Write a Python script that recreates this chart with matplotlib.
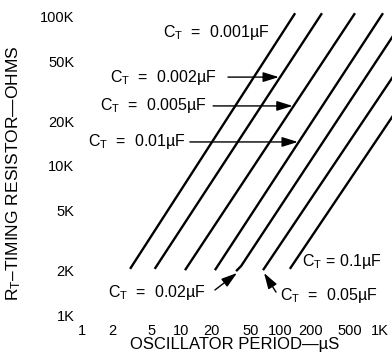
import matplotlib
matplotlib.use("Agg")
import matplotlib.pyplot as plt

plt.rcParams['font.family'] = ['Liberation Sans', 'DejaVu Sans']
plt.rcParams['mathtext.fontset'] = 'custom'
plt.rcParams['mathtext.rm'] = 'Liberation Sans'
plt.rcParams['mathtext.it'] = 'Liberation Sans'

# Data (oscillator period in µs vs timing resistor in ohms)
cap_labels = ['0.001', '0.002', '0.005', '0.01', '0.02', '0.05', '0.1']
curve_periods = [
    [3.05, 140],
    [5.4, 261],
    [10.9, 561],
    [21.8, 1074],
    [35.6, 40.0, 1919],
    [66.5, 3640],
    [124, 6710],
]
curve_res = [
    [2040, 106000],
    [2040, 106000],
    [2000, 106000],
    [2000, 106000],
    [1970, 2130, 106000],
    [2000, 106000],
    [2040, 106000],
]
x_ticks = [1, 2, 5, 10, 20, 50, 100, 200, 500, 1000]
x_tick_labels = ['1', '2', '5', '10', '20', '50', '100', '200', '500', '1K']
y_ticks = [1000, 2000, 5000, 10000, 20000, 50000, 100000]
y_tick_labels = ['1K', '2K', '5K', '10K', '20K', '50K', '100K']

fig = plt.figure(figsize=(3.92, 3.59), dpi=100)
ax = fig.add_axes([80 / 392, 41 / 359, 312 / 392, 318 / 359])
ax.set_xscale('log')
ax.set_yscale('log')

for xs, ys in zip(curve_periods, curve_res):
    ax.plot(xs, ys, color='black', lw=1.7, solid_capstyle='butt')

ax.set_xlim(0.9547, 1324)
ax.set_ylim(955, 130000)
ax.set_xticks(x_ticks)
ax.set_xticklabels(x_tick_labels)
ax.set_yticks(y_ticks)
ax.set_yticklabels(y_tick_labels)
ax.minorticks_off()
ax.tick_params(length=0, labelsize=10.5, pad=4)
for s in ax.spines.values():
    s.set_visible(False)

fs = 11.5
def ct(v):
    return r'C$_\mathrm{T}$  =  ' + v + 'µF'

ax.text(6.54, 78200, ct(cap_labels[0]), fontsize=fs, va='center', ha='left')
ax.text(1.91, 39500, ct(cap_labels[1]), fontsize=fs, va='center', ha='left')
ax.text(1.52, 25300, ct(cap_labels[2]), fontsize=fs, va='center', ha='left')
ax.text(1.15, 14500, ct(cap_labels[3]), fontsize=fs, va='center', ha='left')
ax.text(1.83, 1425, ct(cap_labels[4]), fontsize=fs, va='center', ha='left')
ax.text(98.6, 1361, ct(cap_labels[5]), fontsize=fs, va='center', ha='left')
ax.text(164, 2270, r'C$_\mathrm{T}$ = ' + cap_labels[6] + 'µF', fontsize=fs, va='center', ha='left')

ap = dict(arrowstyle='-|>,head_length=0.8,head_width=0.25', lw=1, color='black',
          mutation_scale=12, shrinkA=0, shrinkB=0)
ax.annotate('', xy=(96, 39500), xytext=(29.5, 39500), arrowprops=ap)
ax.annotate('', xy=(132, 25300), xytext=(20.9, 25300), arrowprops=ap)
ax.annotate('', xy=(149, 14500), xytext=(12.2, 14500), arrowprops=ap)
ax.annotate('', xy=(36.4, 1914), xytext=(21.8, 1472), arrowprops=ap)
ax.annotate('', xy=(68.1, 1914), xytext=(89.9, 1425), arrowprops=ap)

fig.text(235 / 392, 1 - 344 / 359, 'OSCILLATOR PERIOD—µS', fontsize=12,
         ha='center', va='center')
fig.text(14 / 392, 1 - 173 / 359, r'R$_\mathrm{T}$–TIMING RESISTOR—OHMS', fontsize=12.5,
         ha='center', va='center', rotation=90)

fig.savefig('out.png', dpi=100)
